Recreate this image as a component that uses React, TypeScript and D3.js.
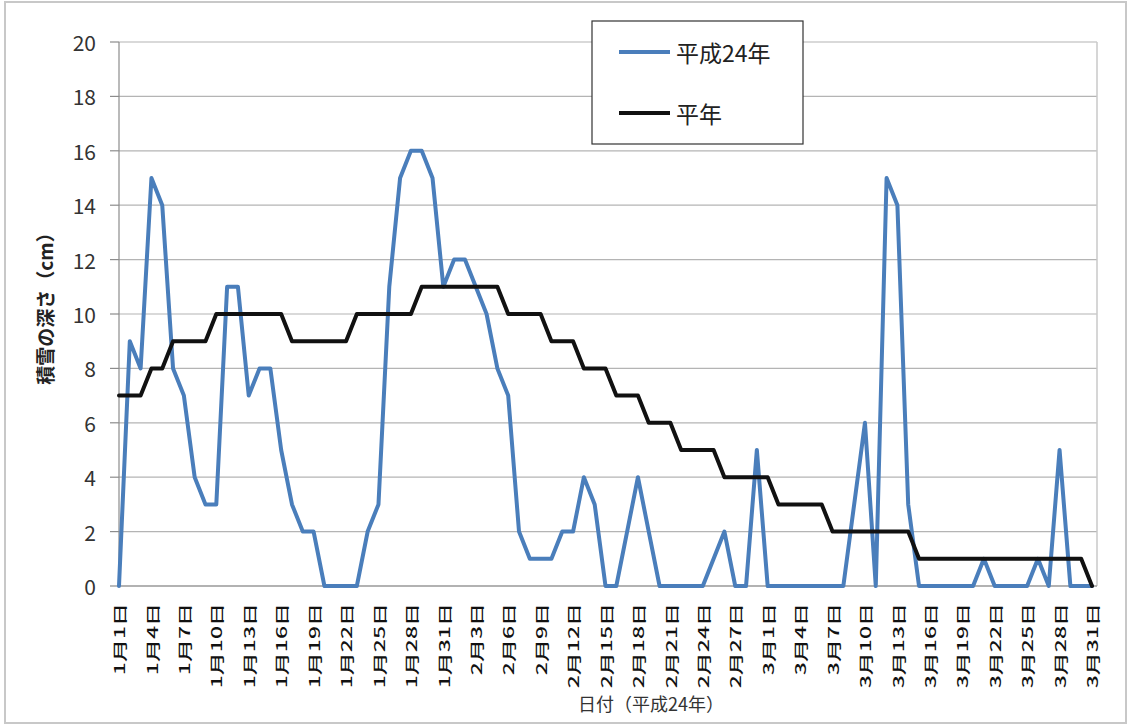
import React from 'react';
import * as d3 from 'd3';

// ---- data ----
const monthNums = [1, 2, 3];
const monthLengths = [31, 29, 31];
const categories: string[] = [];
monthNums.forEach((m, i) => {
  for (let d = 1; d <= monthLengths[i]; d++) categories.push(`${m}月${d}日`);
});

const heisei24 = [
  0, 9, 8, 15, 14, 8, 7, 4, 3, 3,
  11, 11, 7, 8, 8, 5, 3, 2, 2, 0,
  0, 0, 0, 2, 3, 11, 15, 16, 16, 15,
  11, 12, 12, 11, 10, 8, 7, 2, 1, 1,
  1, 2, 2, 4, 3, 0, 0, 2, 4, 2,
  0, 0, 0, 0, 0, 1, 2, 0, 0, 5,
  0, 0, 0, 0, 0, 0, 0, 0, 3, 6,
  0, 15, 14, 3, 0, 0, 0, 0, 0, 0,
  1, 0, 0, 0, 0, 1, 0, 5, 0, 0,
  0,
];

const normalYear = [
  7, 7, 7, 8, 8, 9, 9, 9, 9, 10,
  10, 10, 10, 10, 10, 10, 9, 9, 9, 9,
  9, 9, 10, 10, 10, 10, 10, 10, 11, 11,
  11, 11, 11, 11, 11, 11, 10, 10, 10, 10,
  9, 9, 9, 8, 8, 8, 7, 7, 7, 6,
  6, 6, 5, 5, 5, 5, 4, 4, 4, 4,
  4, 3, 3, 3, 3, 3, 2, 2, 2, 2,
  2, 2, 2, 2, 1, 1, 1, 1, 1, 1,
  1, 1, 1, 1, 1, 1, 1, 1, 1, 1,
  0,
];

const yTicks = [0, 2, 4, 6, 8, 10, 12, 14, 16, 18, 20];
const seriesNames = ['平成24年', '平年'];
const yTitle = '積雪の深さ（cm）';
const xTitle = '日付（平成24年）';

const FONT = '"Noto Sans CJK JP", "Noto Sans", sans-serif';

export default function App() {
  const W = 1132, H = 726;
  const x0 = 119, x1 = 1092, plotRight = 1097;
  const yBottom = 586, yTop = 42;

  const x = d3.scalePoint<string>().domain(categories).range([x0, x1]);
  const y = d3.scaleLinear().domain([0, 20]).range([yBottom, yTop]);

  const line = d3.line<number>()
    .x((_, i) => x(categories[i]) as number)
    .y((d) => y(d));

  const xTickLabels = categories.filter((_, i) => i % 3 === 0);

  const series = [
    { name: seriesNames[0], values: heisei24, color: '#4a7ebb' },
    { name: seriesNames[1], values: normalYear, color: '#111111' },
  ];

  return (
    <svg width={W} height={H} style={{ position: 'absolute', left: 0, top: 0, background: '#fff' }} fontFamily={FONT}>
      <rect x={0} y={0} width={W} height={H} fill="#fff" />
      <rect x={5} y={2} width={1121} height={721} fill="none" stroke="#c8c8c8" strokeWidth={2} />

      {/* gridlines */}
      {yTicks.map((t) => (
        <line key={'g' + t} x1={x0} x2={plotRight} y1={y(t)} y2={y(t)} stroke="#b4b4b4" strokeWidth={1.2} />
      ))}
      <line x1={plotRight} x2={plotRight} y1={yTop} y2={yBottom} stroke="#c8c8c8" strokeWidth={1.5} />

      {/* y axis */}
      <line x1={x0} x2={x0} y1={yTop} y2={yBottom} stroke="#8c8c8c" strokeWidth={1.2} />
      {yTicks.map((t) => (
        <g key={'t' + t}>
          <line x1={x0 - 9} x2={x0} y1={y(t)} y2={y(t)} stroke="#8c8c8c" strokeWidth={1.2} />
          <text x={96} y={y(t)} textAnchor="end" dominantBaseline="central" fontSize={21} fill="#333">{t}</text>
        </g>
      ))}
      {/* x axis */}
      <line x1={x0} x2={plotRight} y1={yBottom} y2={yBottom} stroke="#8c8c8c" strokeWidth={1.2} />
      {xTickLabels.map((c) => (
        <text key={c}
          transform={`translate(${x(c)},603) rotate(-90) scale(1,0.6)`}
          textAnchor="end" dominantBaseline="central" fontSize={23} fontWeight={500} fill="#111">{c}</text>
      ))}

      {/* titles */}
      <text transform={`translate(44,304) rotate(-90)`} textAnchor="middle" dominantBaseline="central"
        fontSize={19} fontWeight="bold" fill="#222">{yTitle}</text>
      <text x={651} y={703} textAnchor="middle" dominantBaseline="central" fontSize={18} fill="#333">{xTitle}</text>

      {/* series */}
      {series.map((s) => (
        <path key={s.name} d={line(s.values) || ''} fill="none" stroke={s.color} strokeWidth={4} strokeLinejoin="round" strokeLinecap="round" />
      ))}

      {/* legend */}
      <rect x={592} y={21} width={211} height={123} fill="#fff" stroke="#333" strokeWidth={1.2} />
      {series.map((s, i) => (
        <g key={'l' + s.name}>
          <line x1={619} x2={670} y1={52 + i * 61} y2={52 + i * 61} stroke={s.color} strokeWidth={4} />
          <text x={676} y={52 + i * 61} dominantBaseline="central" fontSize={23} fill="#222">{s.name}</text>
        </g>
      ))}
    </svg>
  );
}
